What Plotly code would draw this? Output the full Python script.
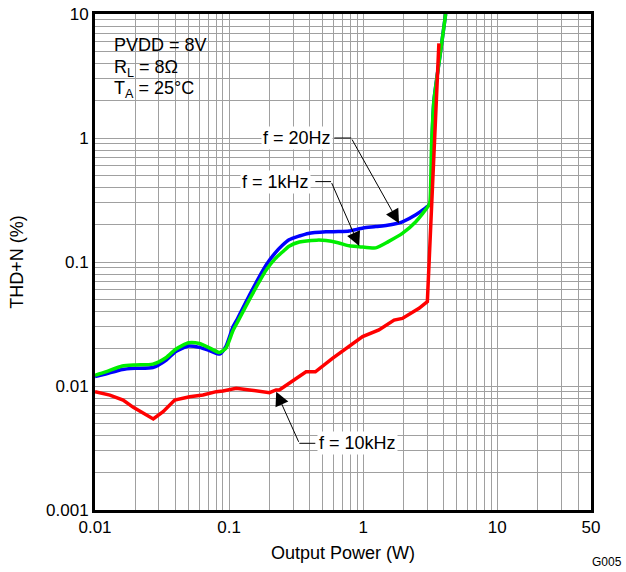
import numpy as np
import plotly.graph_objects as go

# ---------------- data ----------------
p_20hz = [0.01, 0.012, 0.016, 0.02, 0.027, 0.034, 0.04, 0.05, 0.06, 0.07, 0.085,
          0.095, 0.107, 0.116, 0.142, 0.189, 0.22, 0.251, 0.28, 0.334, 0.389, 0.528,
          0.65, 0.787, 1.0, 1.24, 1.6, 1.96, 2.47, 3.09, 3.19, 3.25, 3.37, 3.78, 4.12]
thd_20hz = [0.0119, 0.0125, 0.0136, 0.0139, 0.0141, 0.0162, 0.019, 0.021, 0.0205,
            0.0195, 0.0181, 0.021, 0.030, 0.0352, 0.0542, 0.0946, 0.118, 0.137,
            0.151, 0.162, 0.170, 0.175, 0.176, 0.178, 0.188, 0.193, 0.2, 0.211, 0.24,
            0.288, 0.306, 0.85, 2.0, 5.0, 10.0]

p_1khz = [0.01, 0.012, 0.016, 0.02, 0.027, 0.034, 0.04, 0.05, 0.06, 0.07, 0.085,
          0.095, 0.107, 0.116, 0.142, 0.189, 0.22, 0.251, 0.28, 0.334, 0.45, 0.528,
          0.65, 0.787, 0.934, 1.24, 1.54, 1.96, 2.47, 3.09, 3.15, 3.24, 3.37, 3.78, 4.12]
thd_1khz = [0.0122, 0.013, 0.0145, 0.0148, 0.015, 0.017, 0.0198, 0.0223, 0.022,
            0.0205, 0.0186, 0.0203, 0.028, 0.033, 0.050, 0.086, 0.106, 0.121, 0.134,
            0.145, 0.150, 0.149, 0.143, 0.135, 0.133, 0.130, 0.146, 0.170, 0.211,
            0.288, 0.31, 0.9, 2.0, 5.0, 10.0]

p_10khz = [0.01, 0.0129, 0.0162, 0.0193, 0.0272, 0.0322, 0.0393, 0.0508, 0.0638,
           0.0803, 0.090, 0.113, 0.142, 0.2, 0.224, 0.237, 0.375, 0.44, 0.59,
           0.744, 0.99, 1.31, 1.70, 1.96, 2.61, 3.01, 3.33, 3.67]
thd_10khz = [0.0090, 0.00845, 0.0077, 0.00673, 0.00542, 0.00621, 0.0077, 0.0082,
             0.00845, 0.0090, 0.0091, 0.00957, 0.0093, 0.00883, 0.0093, 0.0093,
             0.0130, 0.0130, 0.0167, 0.0201, 0.025, 0.0283, 0.034, 0.0351, 0.0423,
             0.0479, 0.487, 5.8]

x_tick_vals = [0.01, 0.1, 1, 10, 50]
x_tick_text = ["0.01", "0.1", "1", "10", "50"]
y_tick_vals = [0.001, 0.01, 0.1, 1, 10]
y_tick_text = ["0.001", "0.01", "0.1", "1", "10"]

conditions = ["PVDD = 8V", "R<sub>L</sub> = 8Ω", "T<sub>A</sub> = 25°C"]

FONT = "Arial, Liberation Sans, sans-serif"
GRID = "#a0a0a0"

fig = go.Figure()
fig.add_trace(go.Scatter(x=p_20hz, y=thd_20hz, mode="lines", name="f = 20Hz",
                         line=dict(color="#0000ff", width=3.5, shape="spline", smoothing=0.6)))
fig.add_trace(go.Scatter(x=p_1khz, y=thd_1khz, mode="lines", name="f = 1kHz",
                         line=dict(color="#00ee00", width=3.5, shape="spline", smoothing=0.6)))
fig.add_trace(go.Scatter(x=p_10khz, y=thd_10khz, mode="lines", name="f = 10kHz",
                         line=dict(color="#ff0000", width=3.5)))

minor_vals = [m * 10.0 ** e for e in range(-3, 2) for m in range(2, 10)]

axis_common = dict(
    type="log", showgrid=True, gridcolor=GRID, gridwidth=1,
    showline=True, linecolor="black", linewidth=3, mirror=True,
    ticks="", zeroline=False, automargin=False,
    tickfont=dict(family=FONT, size=17, color="black"),
    minor=dict(tickvals=minor_vals, showgrid=True, gridcolor=GRID, gridwidth=1, ticks=""),
)

fig.update_layout(
    width=626, height=572,
    margin=dict(l=95, r=35, t=14, b=62, autoexpand=False),
    paper_bgcolor="white", plot_bgcolor="white",
    showlegend=False,
    font=dict(family=FONT, size=18, color="black"),
    xaxis=dict(axis_common, range=[np.log10(0.01), np.log10(50)],
               tickvals=x_tick_vals, ticktext=x_tick_text,
               title=dict(text="Output Power (W)", font=dict(size=18), standoff=10)),
    yaxis=dict(axis_common, range=[-3, 1],
               tickvals=y_tick_vals, ticktext=y_tick_text,
               title=dict(text="THD+N (%)", font=dict(size=18), standoff=18)),
)

# white box behind the conditions text
fig.add_shape(type="rect", xref="x", yref="y", x0=0.0101, x1=0.0754, y0=1.40, y1=9.9,
              fillcolor="white", line=dict(width=0), layer="below")

cond_y = [0.75, 0.562, 0.393]
for txt, yy in zip(conditions, cond_y):
    fig.add_annotation(x=np.log10(0.0134), y=yy, xref="x", yref="y", text=txt,
                       showarrow=False, xanchor="left", yanchor="middle",
                       font=dict(family=FONT, size=18, color="black"))

# curve labels with leader lines
labels = [
    # text, text center (P, T), horizontal segment (P0, P1, T), tip (P, T)
    ("f = 20Hz", (0.3204, 1.0), (0.609, 0.814, 1.0), (1.85, 0.205)),
    ("f = 1kHz", (0.2228, 0.445), (0.4396, 0.576, 0.445), (0.934, 0.1346)),
    ("f = 10kHz", (0.907, 0.00345), (0.4396, 0.334, 0.00345), (0.2245, 0.0090)),
]
for txt, (tx, ty), (h0, h1, hy), (px, py) in labels:
    fig.add_shape(type="line", xref="x", yref="y", x0=h0, x1=h1, y0=hy, y1=hy,
                  line=dict(color="black", width=1))
    fig.add_annotation(x=np.log10(px), y=np.log10(py), xref="x", yref="y",
                       ax=np.log10(h1), ay=np.log10(hy), axref="x", ayref="y",
                       text="", showarrow=True, arrowhead=2, arrowsize=2.8,
                       arrowwidth=1, arrowcolor="black", standoff=0)
    fig.add_annotation(x=np.log10(tx), y=np.log10(ty), xref="x", yref="y", text=txt,
                       showarrow=False, bgcolor="white", borderpad=1,
                       font=dict(family=FONT, size=18, color="black"))

fig.add_annotation(x=1.0665, y=-0.105, xref="paper", yref="paper", text="G005",
                   showarrow=False, xanchor="right", yanchor="middle",
                   font=dict(family=FONT, size=12, color="black"))

fig.write_html("out.html", config={"displayModeBar": False},
               post_script="document.body.style.margin='0';")
